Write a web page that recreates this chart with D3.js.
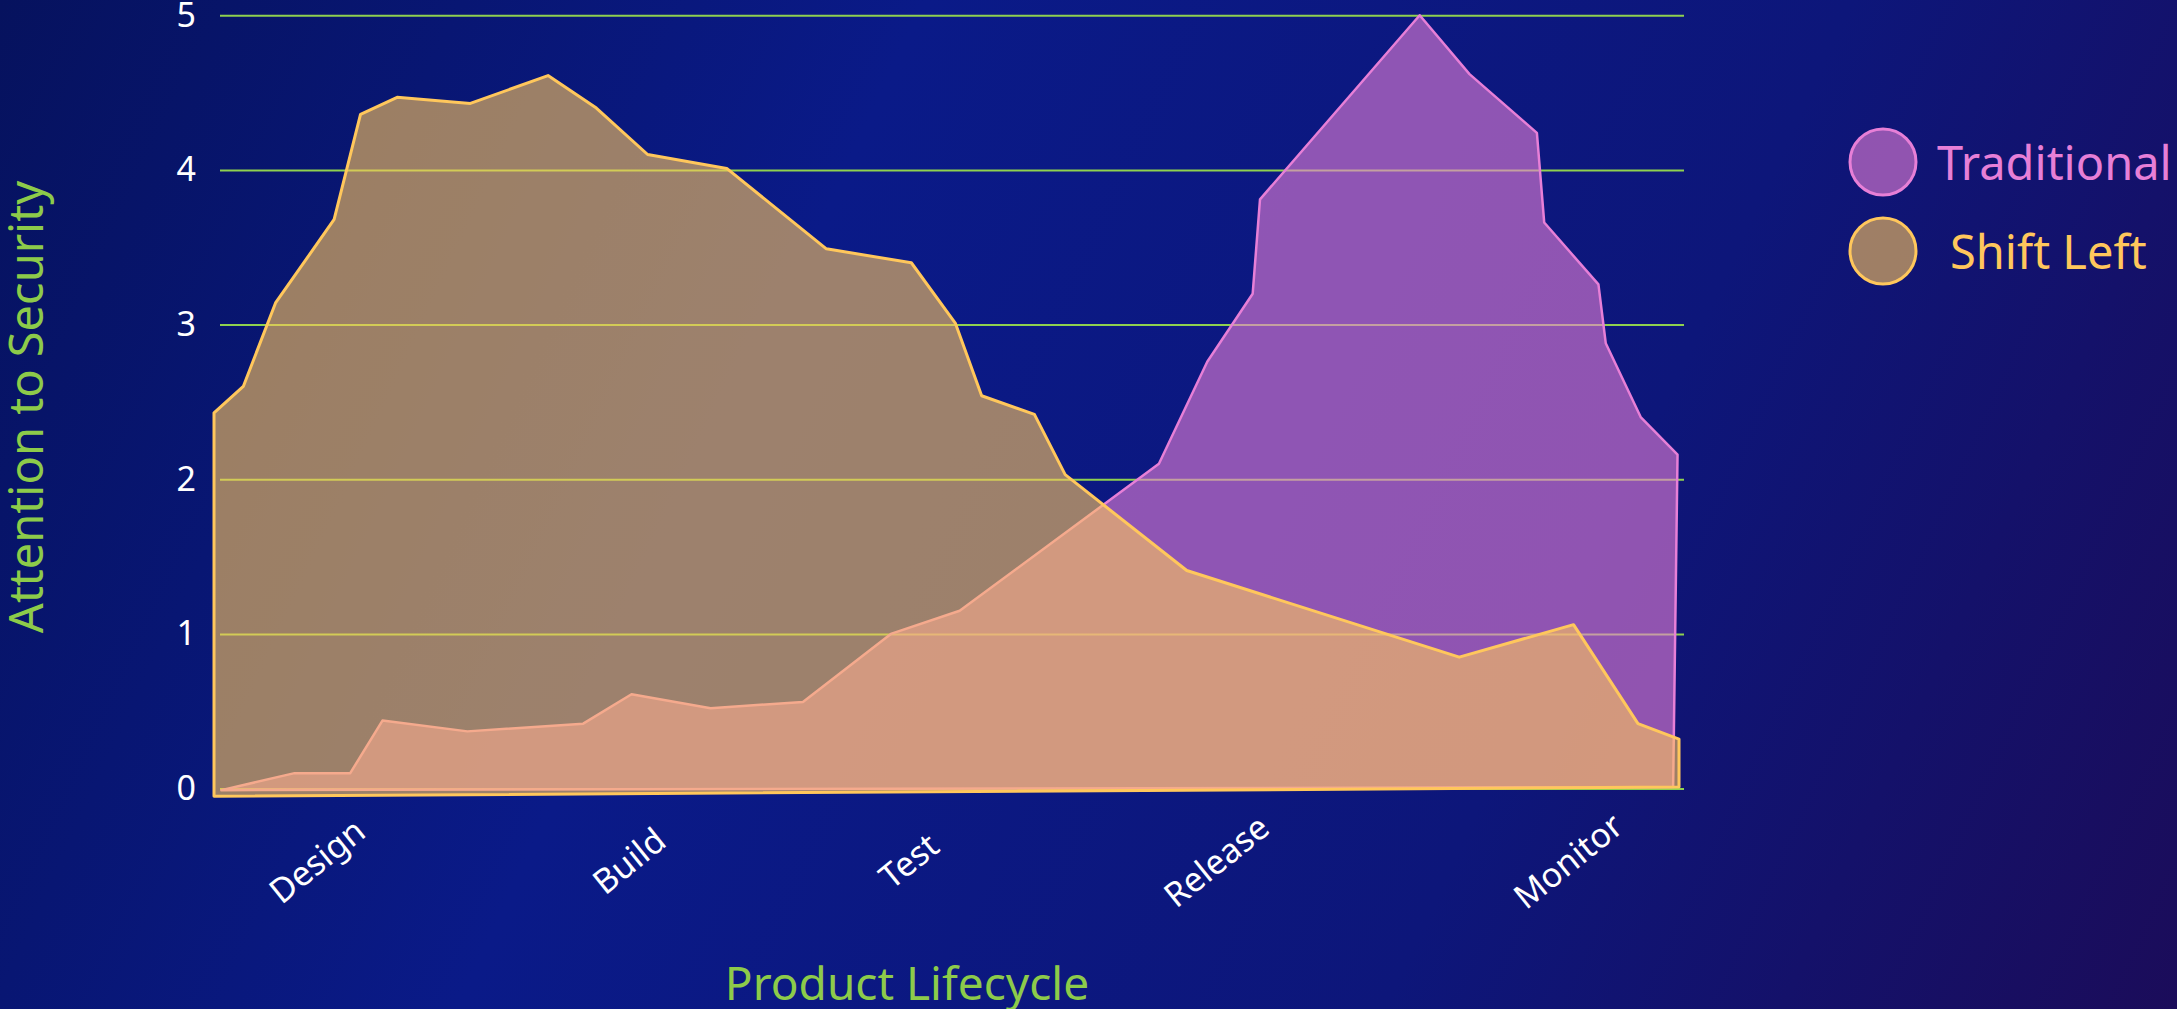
<!DOCTYPE html>
<html>
<head>
<meta charset="utf-8">
<script src="https://cdn.jsdelivr.net/npm/d3@7"></script>
<style>
  html, body { margin: 0; padding: 0; background: #0a1880; overflow: hidden; }
  svg { display: block; font-family: "Noto Sans", "Open Sans", sans-serif; }
</style>
</head>
<body>
<div id="chart"></div>
<script>
// data
var stages = ["Design", "Build", "Test", "Release", "Monitor"];
var stagePos = [7.0, 28.3, 47.4, 68.4, 92.4]; // where the stage labels sit along the lifecycle (0-100)
var yTicks = [0, 1, 2, 3, 4, 5];

// Traditional outline (lifecycle %, attention)
var tradX = [0.5, 5.5, 9.3, 11.5, 17.3, 25.2, 28.5, 33.9, 40.2, 46.2, 50.9, 64.5, 67.8, 70.9, 71.4, 82.3, 85.7, 90.3, 90.8, 94.5, 95.0, 97.4, 99.9, 99.6];
var tradY = [-0.01, 0.10, 0.10, 0.44, 0.37, 0.42, 0.61, 0.52, 0.56, 1.00, 1.15, 2.10, 2.76, 3.20, 3.81, 5.00, 4.62, 4.24, 3.66, 3.26, 2.88, 2.40, 2.16, 0.01];

// Shift Left outline
var shiftX = [0, 0, 2.0, 4.2, 8.2, 10.0, 12.5, 17.5, 22.8, 26.1, 29.6, 35.0, 41.8, 47.6, 50.6, 52.4, 56.0, 58.1, 66.4, 85.0, 92.8, 97.2, 100, 100];
var shiftY = [-0.05, 2.43, 2.60, 3.14, 3.68, 4.36, 4.47, 4.43, 4.61, 4.40, 4.10, 4.01, 3.49, 3.40, 3.01, 2.54, 2.42, 2.03, 1.41, 0.85, 1.06, 0.42, 0.32, 0.01];

var seriesNames = ["Traditional", "Shift Left"];
var seriesColors = ["#e77fd7", "#ffc75c"];

// 基本設定
var w = 2177;
var h = 1009;

var x = d3.scaleLinear().domain([0, 100]).range([214, 1679]);
var y = d3.scaleLinear().domain([0, 5]).range([788.6, 15.3]);

var svg = d3.select("#chart")
  .append("svg")
  .attr("width", w)
  .attr("height", h);

// background gradient
var defs = svg.append("defs");
var grad = defs.append("linearGradient")
  .attr("id", "bg")
  .attr("gradientUnits", "userSpaceOnUse")
  .attr("x1", 0).attr("y1", 0)
  .attr("x2", w).attr("y2", h);
grad.append("stop").attr("offset", "0%").attr("stop-color", "#06125e");
grad.append("stop").attr("offset", "35%").attr("stop-color", "#0a1a88");
grad.append("stop").attr("offset", "70%").attr("stop-color", "#0d167a");
grad.append("stop").attr("offset", "100%").attr("stop-color", "#1b0c5a");

svg.append("rect")
  .attr("width", w)
  .attr("height", h)
  .attr("fill", "url(#bg)");

// gridlines + y labels
var yAxis = svg.append("g")
  .attr("transform", "translate(220,0)")
  .call(d3.axisLeft(y).tickValues(yTicks).tickFormat(d3.format("d"))
    .tickSize(-(1684 - 220)).tickPadding(24));
yAxis.select(".domain").remove();
yAxis.selectAll(".tick line")
  .attr("stroke", "#8fd14f")
  .attr("stroke-width", 2);
yAxis.selectAll(".tick text")
  .attr("fill", "#ffffff")
  .attr("font-size", 34)
  .attr("font-family", "'Noto Sans', sans-serif");

// x labels
var xAxis = svg.append("g")
  .attr("transform", "translate(0,789)")
  .call(d3.axisBottom(x).tickValues(stagePos)
    .tickFormat(function(d, i) { return stages[i]; })
    .tickSize(0));
xAxis.select(".domain").remove();
xAxis.selectAll(".tick text")
  .attr("fill", "#ffffff")
  .attr("font-size", 34)
  .attr("font-family", "'Noto Sans', sans-serif")
  .attr("text-anchor", "middle")
  .attr("y", 0)
  .attr("dy", "0.35em")
  .attr("transform", "translate(0,72) rotate(-39)");

// areas as closed outlines
var outline = d3.line()
  .x(function(d) { return x(d[0]); })
  .y(function(d) { return y(d[1]); })
  .curve(d3.curveLinearClosed);

var tradPts = tradX.map(function(v, i) { return [v, tradY[i]]; });
var shiftPts = shiftX.map(function(v, i) { return [v, shiftY[i]]; });

svg.append("path")
  .attr("d", outline(tradPts))
  .attr("fill", seriesColors[0])
  .attr("fill-opacity", 0.6)
  .attr("stroke", seriesColors[0])
  .attr("stroke-width", 2.5)
  .attr("stroke-linejoin", "round");

svg.append("path")
  .attr("d", outline(shiftPts))
  .attr("fill", seriesColors[1])
  .attr("fill-opacity", 0.6)
  .attr("stroke", seriesColors[1])
  .attr("stroke-width", 3)
  .attr("stroke-linejoin", "round");

// axis titles
svg.append("text")
  .attr("transform", "translate(43,407) rotate(-90)")
  .attr("text-anchor", "middle")
  .attr("fill", "#8dcb4a")
  .attr("font-size", 47)
  .text("Attention to Security");

svg.append("text")
  .attr("x", 907)
  .attr("y", 1000)
  .attr("text-anchor", "middle")
  .attr("fill", "#8dcb4a")
  .attr("font-size", 46)
  .text("Product Lifecycle");

// legend
var legendY = [162, 251];
var legendTextX = [1937, 1950];
var legend = svg.append("g");
seriesNames.forEach(function(name, i) {
  legend.append("circle")
    .attr("cx", 1883)
    .attr("cy", legendY[i])
    .attr("r", 33)
    .attr("fill", seriesColors[i])
    .attr("fill-opacity", 0.6)
    .attr("stroke", seriesColors[i])
    .attr("stroke-width", 3);
  legend.append("text")
    .attr("x", legendTextX[i])
    .attr("y", legendY[i] + 18)
    .attr("fill", seriesColors[i])
    .attr("font-size", 47)
    .text(name);
});
</script>
</body>
</html>
